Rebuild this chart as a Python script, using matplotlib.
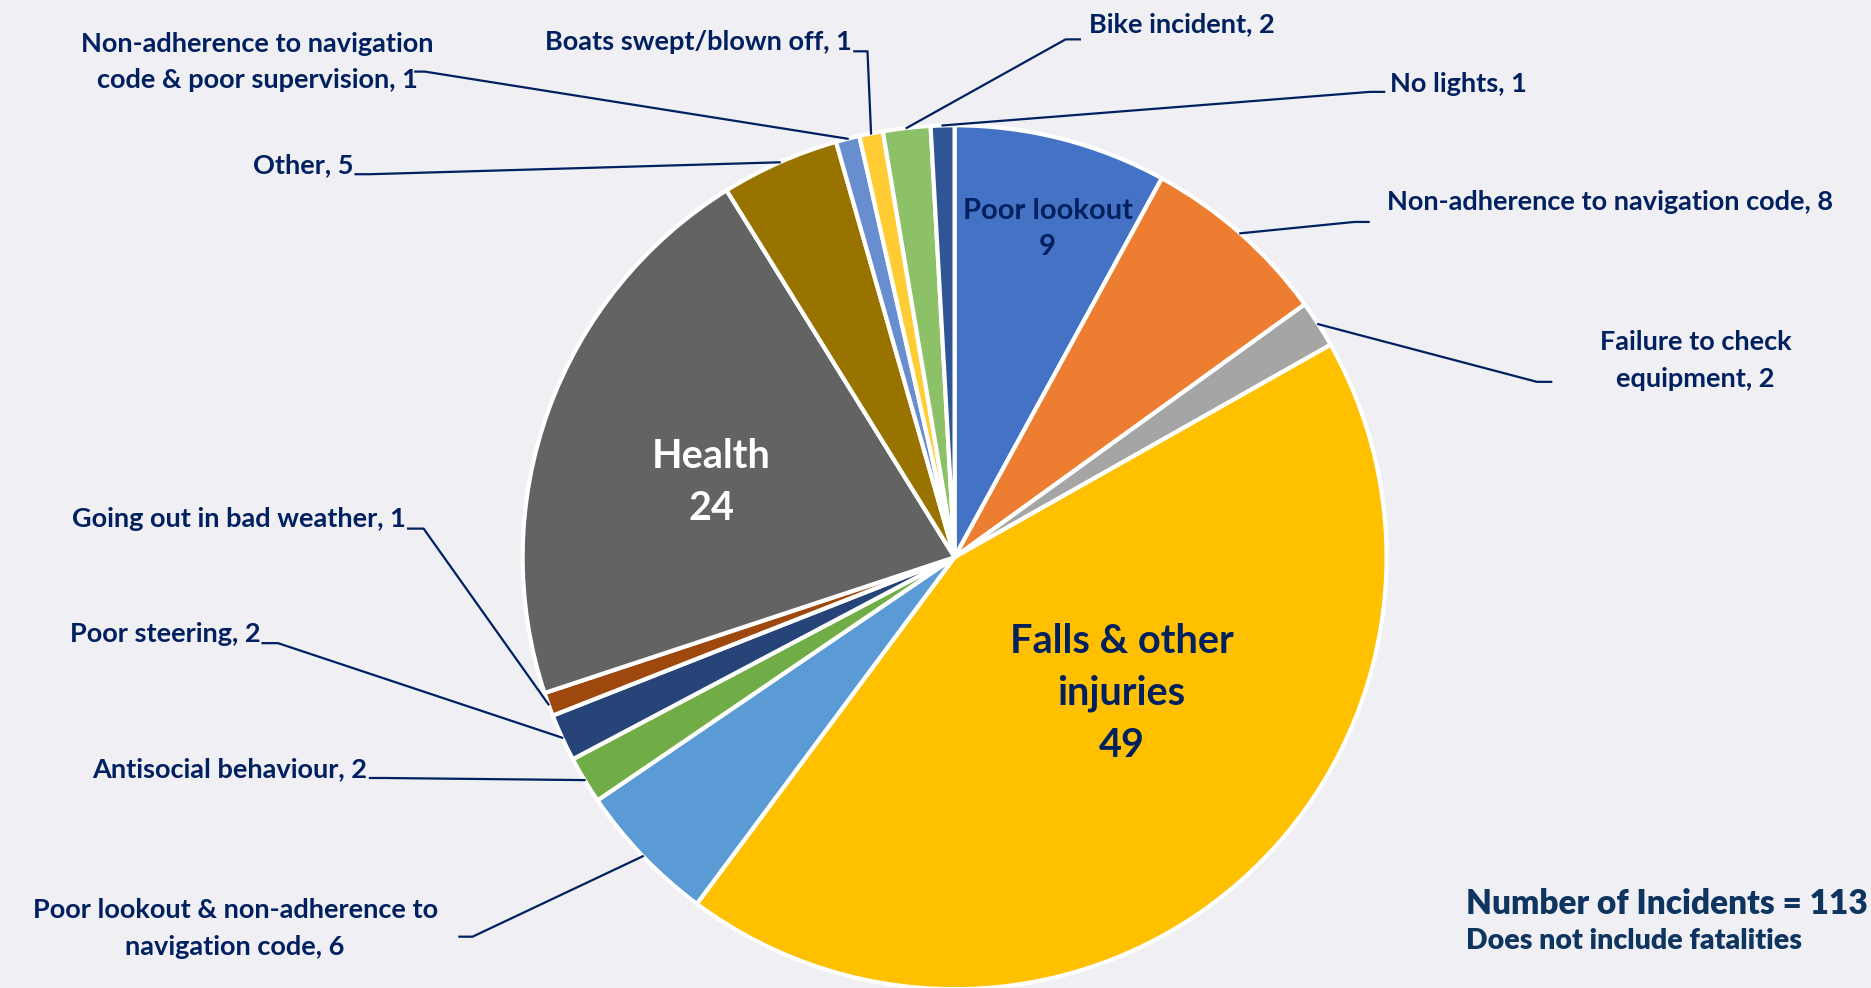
import matplotlib
matplotlib.use("Agg")
import matplotlib.pyplot as plt
import numpy as np

# slices, clockwise from 12 o'clock
categories = [
    "Poor lookout", "Non-adherence to navigation code", "Failure to check equipment",
    "Falls & other injuries", "Poor lookout & non-adherence to navigation code",
    "Antisocial behaviour", "Poor steering", "Going out in bad weather", "Health",
    "Other", "Non-adherence to navigation code & poor supervision",
    "Boats swept/blown off", "Bike incident", "No lights",
]
counts = [9, 8, 2, 49, 6, 2, 2, 1, 24, 5, 1, 1, 2, 1]
colors = ["#4472C4", "#ED7D31", "#A5A5A5", "#FFC000", "#5B9BD5", "#70AD47", "#264478",
          "#9E480E", "#636363", "#997300", "#698ED0", "#FFCD33", "#8CC168", "#2F5597"]

NAVY = "#002060"
BG = "#EFEFF4"
W, H = 1871, 988
S = W / 1568.0  # layout measured on the 1568-wide preview
FONT = ["Lato", "DejaVu Sans"]


def P(x, y):
    return x * S, H - y * S


fig = plt.figure(figsize=(W / 100, H / 100), dpi=100, facecolor=BG)
ax = fig.add_axes([0, 0, 1, 1])
ax.set_facecolor(BG)

cx, cy = P(800, 467)
R = 362 * S
wedges, _ = ax.pie(counts, colors=colors, startangle=90, counterclock=False,
                   center=(cx, cy), radius=R,
                   wedgeprops=dict(edgecolor="white", linewidth=3))
ax.set_xlim(0, W)
ax.set_ylim(0, H)
ax.set_aspect("equal")
ax.axis("off")


def edge_point(i):
    w = wedges[i]
    a = np.deg2rad((w.theta1 + w.theta2) / 2)
    return cx + R * np.cos(a), cy + R * np.sin(a)


def leader(i, start, elbow):
    # short stub next to the text, then straight to the slice edge
    ex, ey = edge_point(i)
    s = P(*start)
    e = P(*elbow)
    ax.plot([s[0], e[0], ex], [s[1], e[1], ey], color=NAVY, lw=1.6)


def txt(text, x, y, ha="left", size=19.5, color=NAVY, ls=1.6):
    px_, py_ = P(x, y)
    ax.text(px_, py_, text, ha=ha, va="center", color=color, fontsize=size,
            fontweight="bold", family=FONT, linespacing=ls)


# outside labels with leader lines
txt("Non-adherence to navigation\ncode & poor supervision, 1", 216, 52, ha="center")
leader(10, (348, 60), (356, 60))
txt("Boats swept/blown off, 1", 714, 35, ha="right")
leader(11, (716, 43), (727, 43))
txt("Bike incident, 2", 913, 20)
leader(12, (905, 33), (893, 33))
txt("No lights, 1", 1165, 70)
leader(13, (1160, 77), (1148, 77))
txt("Non-adherence to navigation code, 8", 1162, 169)
leader(1, (1147, 186), (1135, 186))
txt("Failure to check\nequipment, 2", 1421, 302, ha="center", ls=1.65)
leader(2, (1300, 320), (1288, 320))
txt("Other, 5", 296, 138, ha="right")
leader(9, (298, 146), (310, 146))
txt("Going out in bad weather, 1", 340, 435, ha="right")
leader(7, (342, 443), (355, 443))
txt("Poor steering, 2", 218, 531, ha="right")
leader(6, (220, 539), (233, 539))
txt("Antisocial behaviour, 2", 308, 645, ha="right")
leader(5, (310, 652), (322, 652))
txt("Poor lookout & non-adherence to\nnavigation code, 6", 197, 778, ha="center", ls=1.65)
leader(4, (385, 785), (396, 785))

# labels inside slices
txt("Poor lookout\n9", 878, 192, ha="center", size=21, ls=1.5)
txt("Health\n24", 596, 404, ha="center", size=28.5, color="white", ls=1.5)
txt("Falls & other\ninjuries\n49", 940, 581, ha="center", size=28.5, ls=1.5)

# note
x, y = P(1229, 758)
ax.text(x, y, "Number of Incidents = 113", ha="left", va="center", color="#0E3460",
        fontsize=24, fontweight="heavy", family=FONT)
x, y = P(1229, 789)
ax.text(x, y, "Does not include fatalities", ha="left", va="center", color="#0E3460",
        fontsize=20.5, fontweight="heavy", family=FONT)

fig.savefig("out.png", dpi=100, facecolor=BG)
